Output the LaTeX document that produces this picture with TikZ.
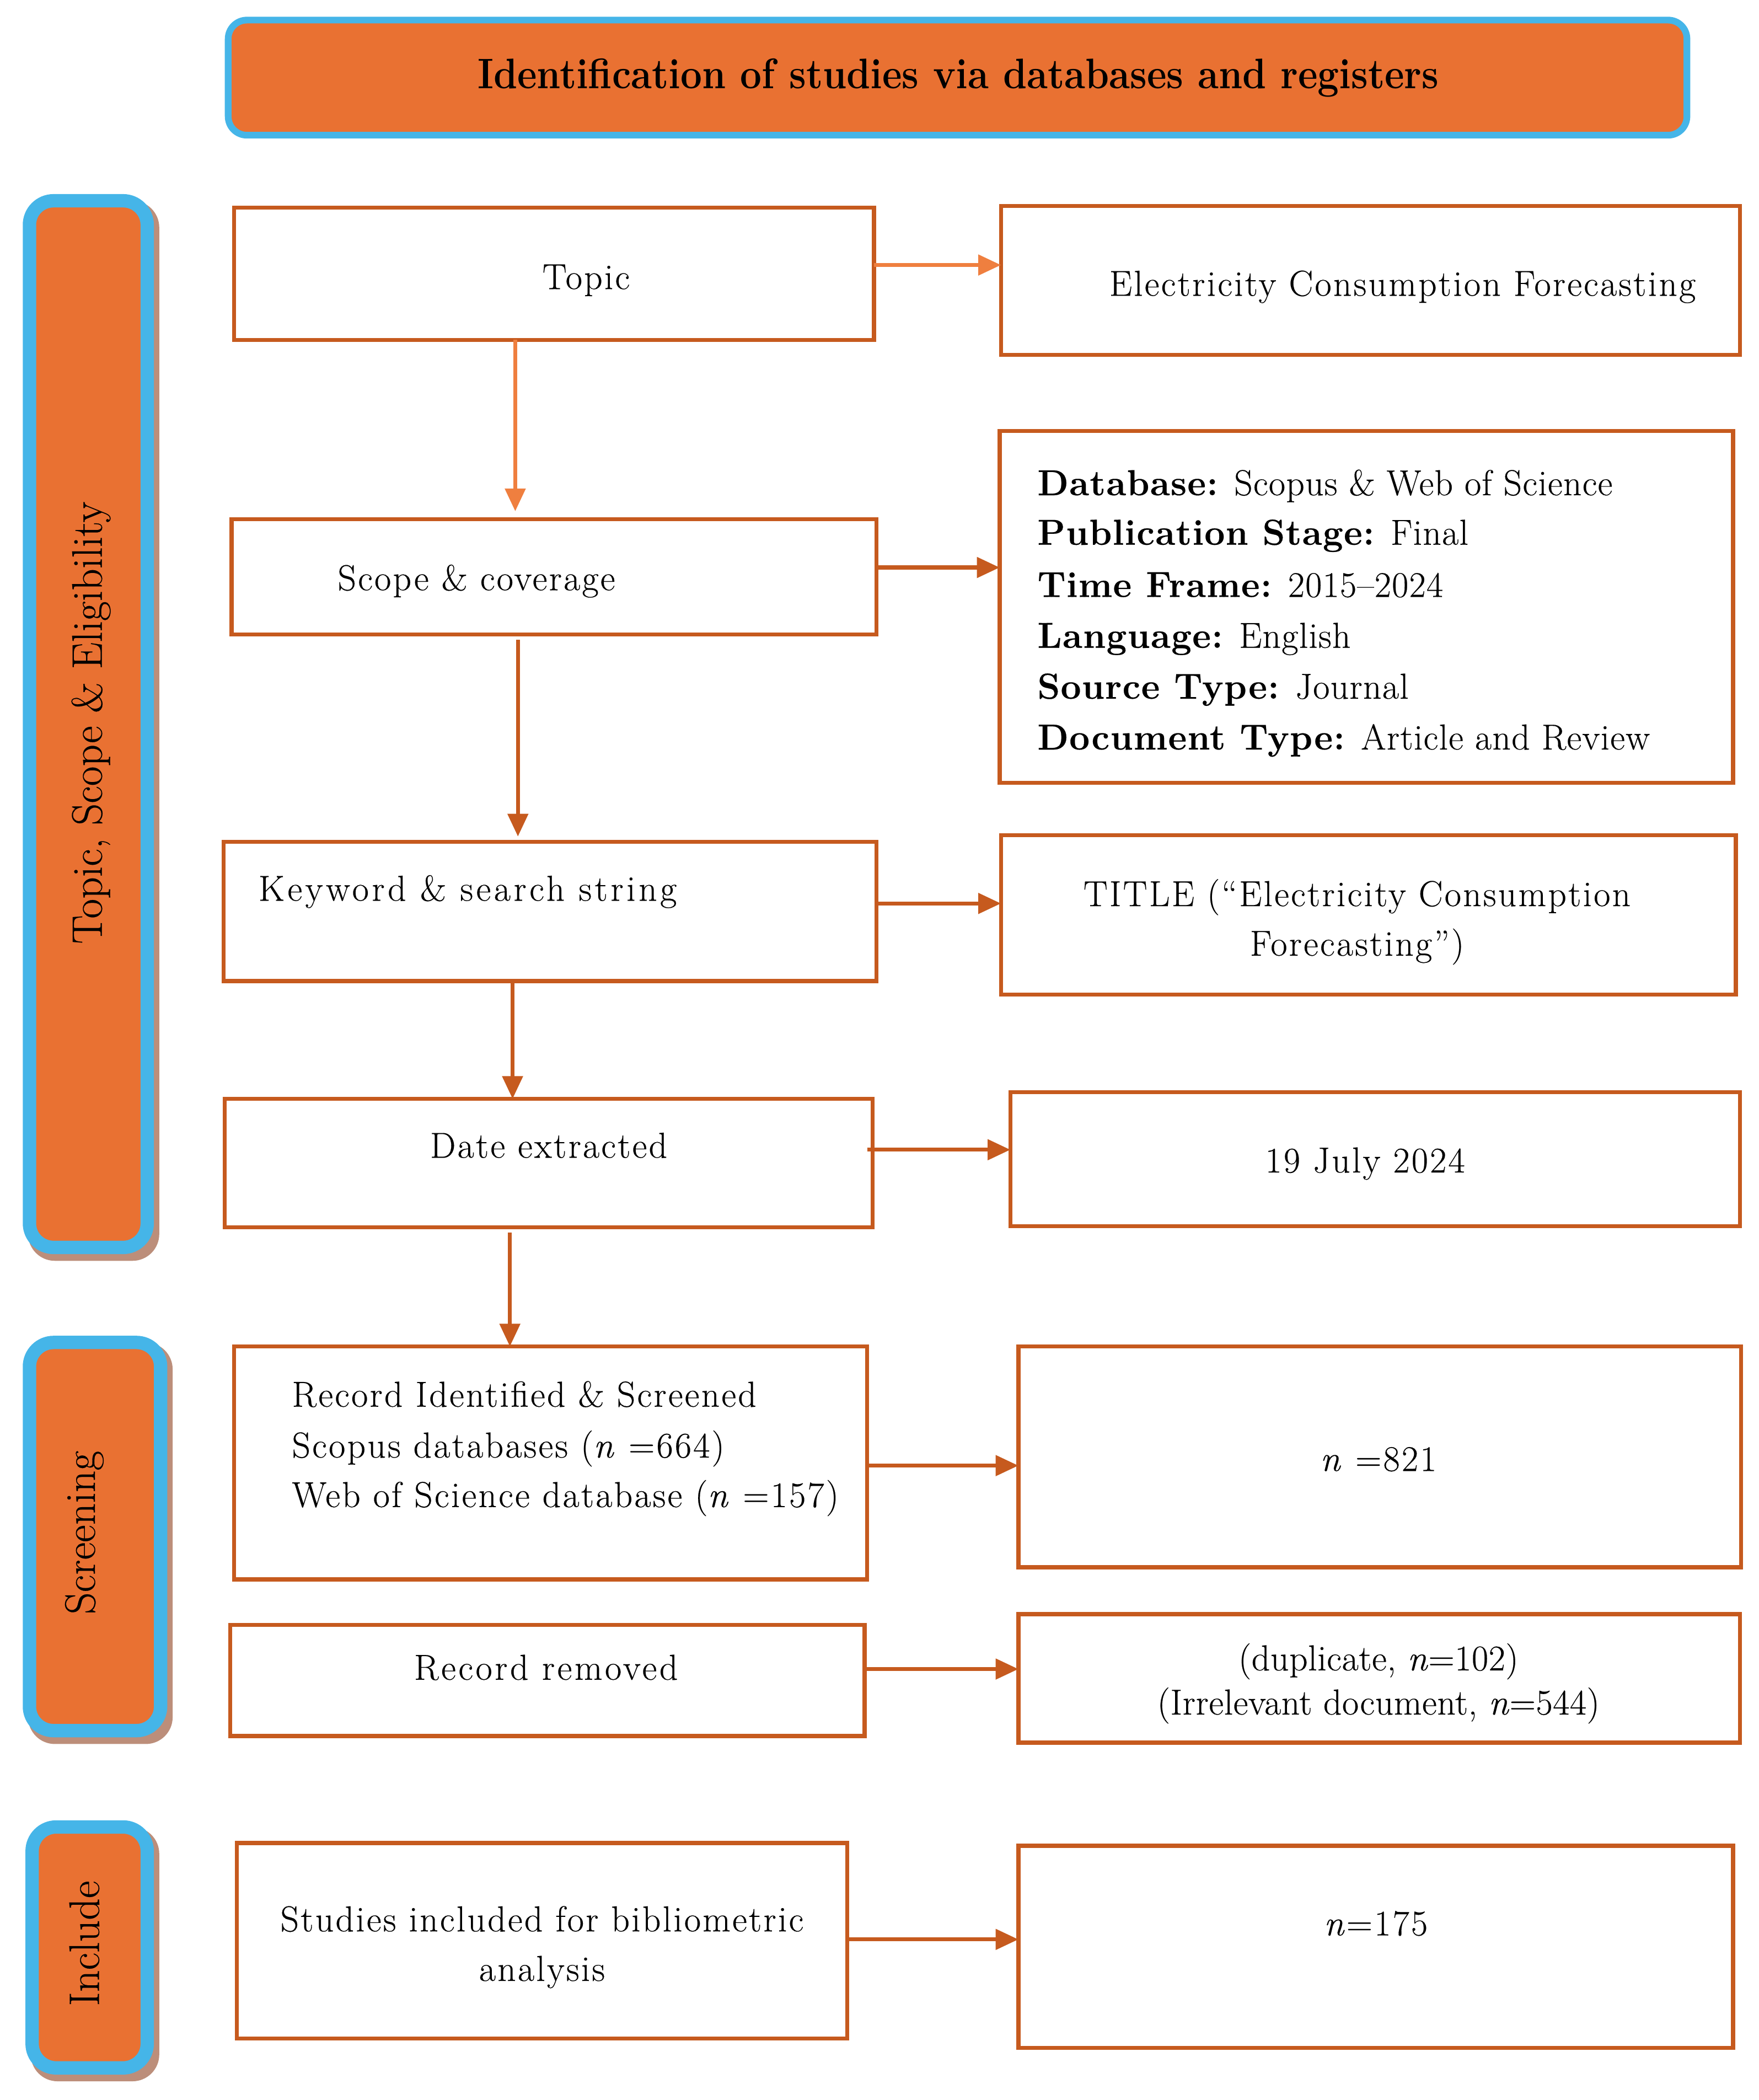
\documentclass[tikz,border=0pt]{standalone}
\usepackage{fontspec}
\usetikzlibrary{arrows.meta,calc}
\definecolor{orangef}{HTML}{E97132}
\definecolor{blueb}{HTML}{45B5E8}
\definecolor{boxc}{HTML}{C65A1E}
\definecolor{arrlight}{HTML}{EF7F3F}
\definecolor{shadowc}{HTML}{BC8E7A}
\newfontfamily\bodyfont[LetterSpace=5,FakeBold=0.3]{Latin Modern Roman}
\newfontfamily\critfont[LetterSpace=2,FakeBold=0.3]{Latin Modern Roman}
\newfontfamily\kwfont[LetterSpace=8.5,FakeBold=0.3]{Latin Modern Roman}
\newfontfamily\remfont[LetterSpace=7,FakeBold=0.3]{Latin Modern Roman}
\newfontfamily\dupfont[LetterSpace=1,FakeBold=0.3]{Latin Modern Roman}
\newfontfamily\sidefont[FakeBold=0.3]{Latin Modern Roman}
\begin{document}
\begin{tikzpicture}[x=1pt,y=-1pt,
  box/.style={draw=boxc, line width=3pt, fill=white, inner sep=0pt, outer sep=0pt},
  side/.style={draw=blueb, line width=10pt, fill=orangef, rounded corners=18pt, inner sep=0pt},
  txt/.style={font=\bodyfont\fontsize{27}{37}\selectfont, inner sep=0pt, anchor=base},
  txtw/.style={txt, anchor=base west},
  crittxt/.style={txtw, font=\critfont\fontsize{27}{37}\selectfont},
  duptxt/.style={txt, font=\dupfont\fontsize{27}{33}\selectfont},
  sidetxt/.style={font=\sidefont\fontsize{32}{34}\selectfont, rotate=90, inner sep=0pt},
  arr/.style={draw=boxc, line width=3pt, -{Triangle[length=17pt,width=15pt]}},
  arrl/.style={arr, draw=arrlight, fill=arrlight}]
\useasboundingbox (0,0) rectangle (1314,1569);

% title
\node[draw=blueb, line width=5pt, fill=orangef, rounded corners=14pt,
  minimum width=1090pt, minimum height=86pt] (title) at (715.5,58) {};
\node[font=\bfseries\fontsize{28.5}{30}\selectfont, inner sep=0pt, anchor=base] (titleT) at (716,66)
  {\scalebox{1}[1.12]{Identification of studies via databases and registers}};

% side bars with shadows
\fill[shadowc, rounded corners=20pt] (21,150) rectangle (119,942);
\node[side, minimum width=88pt, minimum height=782pt] (s1) at (66,541) {};
\node[sidetxt] (s1T) at (68,540) {Topic, Scope \& Eligibility};
\fill[shadowc, rounded corners=20pt] (21,1003) rectangle (129,1303);
\node[side, minimum width=98pt, minimum height=290pt] (s2) at (71,1148) {};
\node[sidetxt] (s2T) at (63,1145) {Screening};
\fill[shadowc, rounded corners=20pt] (23,1365) rectangle (119,1555);
\node[side, minimum width=86pt, minimum height=180pt] (s3) at (67,1455) {};
\node[sidetxt] (s3T) at (63,1452) {Include};

% boxes
\node[box, minimum width=478pt, minimum height=99pt] (topic) at (414,204.5) {};
\node[box, minimum width=552pt, minimum height=111pt] (elec) at (1024,209.5) {};
\node[box, minimum width=482pt, minimum height=86pt] (scope) at (414,431) {};
\node[box, minimum width=548pt, minimum height=263pt] (crit) at (1021,453.5) {};
\node[box, minimum width=488pt, minimum height=104pt] (kw) at (411,681) {};
\node[box, minimum width=549pt, minimum height=119pt] (search) at (1022.5,683.5) {};
\node[box, minimum width=484pt, minimum height=96pt] (date) at (410,869) {};
\node[box, minimum width=545pt, minimum height=100pt] (jul) at (1027.5,866) {};
\node[box, minimum width=473pt, minimum height=174pt] (rec) at (411.5,1093) {};
\node[box, minimum width=540pt, minimum height=165pt] (n821) at (1031,1088.5) {};
\node[box, minimum width=474pt, minimum height=83pt] (rem) at (409,1255.5) {};
\node[box, minimum width=539pt, minimum height=96pt] (dup) at (1030.5,1254) {};
\node[box, minimum width=456pt, minimum height=146pt] (stu) at (405,1450) {};
\node[box, minimum width=534pt, minimum height=151pt] (n175) at (1028,1454.5) {};

% texts
\node[txt] (topicT) at (438,216) {Topic};
\node[txt] (elecT) at (1048,221) {Electricity Consumption Forecasting};
\node[txt] (scopeT) at (356,441) {Scope \& coverage};
\node[crittxt] (c1) at (775,370) {\textbf{Database:} Scopus \& Web of Science};
\node[crittxt] (c2) at (775,407) {\textbf{Publication Stage:} Final};
\node[crittxt] (c3) at (775,446) {\textbf{Time Frame:} 2015–2024};
\node[crittxt] (c4) at (775,484) {\textbf{Language:} English};
\node[crittxt] (c5) at (775,522) {\textbf{Source Type:} Journal};
\node[crittxt] (c6) at (775,560) {\textbf{Document Type:} Article and Review};
\node[txtw, font=\kwfont\fontsize{27}{37}\selectfont] (kwT) at (193,673) {Keyword \& search string};
\node[txt] (s1l) at (1014,677) {TITLE (“Electricity Consumption};
\node[txt] (s2l) at (1014,714) {Forecasting”)};
\node[txt] (dateT) at (410,865) {Date extracted};
\node[txt] (julT) at (1020,876) {19 July 2024};
\node[txtw] (r1) at (218,1051) {Record Identified \& Screened};
\node[txtw] (r2) at (218,1089) {Scopus databases (\textit{n} =664)};
\node[txtw] (r3) at (218,1126) {Web of Science database (\textit{n} =157)};
\node[txt] (n821T) at (1030,1099) {\textit{n} =821};
\node[txt, font=\remfont\fontsize{27}{37}\selectfont] (remT) at (408,1255) {Record removed};
\node[duptxt] (d1) at (1030,1248) {(duplicate, \textit{n}=102)};
\node[duptxt] (d2) at (1030,1281) {(Irrelevant document, \textit{n}=544)};
\node[txt] (st1) at (405,1443) {Studies included for bibliometric};
\node[txt] (st2) at (405,1480) {analysis};
\node[txt] (n175T) at (1028,1446) {\textit{n}=175};

% arrows
\draw[arrl] ($(topic.east)+(0,-6.5)$) coordinate (a1) -- (a1 -| elec.west);
\draw[arrl, shorten >=6pt] ($(topic.south)+(-29,0)$) coordinate (a2) -- (a2 |- scope.north);
\draw[arr] ($(scope.east)+(0,-7)$) coordinate (a3) -- (a3 -| crit.west);
\draw[arr, shorten >=4pt, shorten <=4pt] ($(scope.south)+(-27,0)$) coordinate (a4) -- (a4 |- kw.north);
\draw[arr] ($(kw.east)+(0,-6)$) coordinate (a5) -- (a5 -| search.west);
\draw[arr] ($(kw.south)+(-28,0)$) coordinate (a6) -- (a6 |- date.north);
\draw[arr] ($(date.east)+(-4,-10)$) coordinate (a7) -- (a7 -| jul.west);
\draw[arr, shorten <=4pt] ($(date.south)+(-29,0)$) coordinate (a8) -- (a8 |- rec.north);
\draw[arr] ($(rec.east)+(0,2)$) coordinate (a9) -- (a9 -| n821.west);
\draw[arr] ($(rem.east)+(0,-8.5)$) coordinate (a10) -- (a10 -| dup.west);
\draw[arr] ($(stu.east)+(0,-1)$) coordinate (a11) -- (a11 -| n175.west);
\end{tikzpicture}
\end{document}
